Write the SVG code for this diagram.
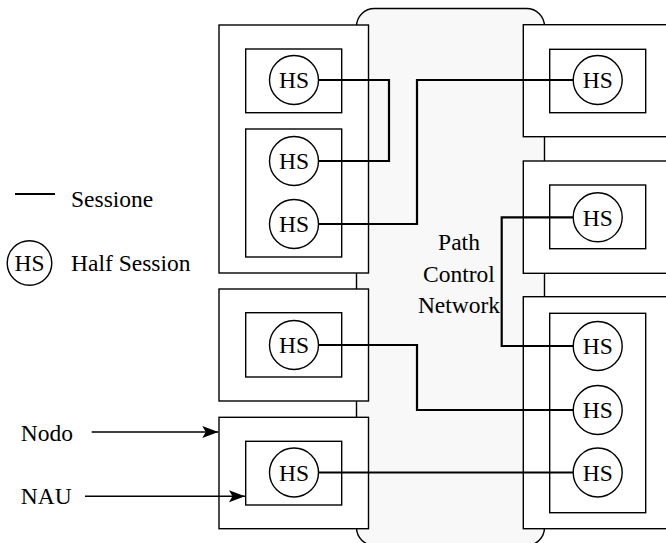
<svg xmlns="http://www.w3.org/2000/svg" width="666" height="543" viewBox="0 0 666 543">
<style>
  text { font-family: "Liberation Serif", "Tinos", "Times New Roman", Times, "Nimbus Roman", "Noto Serif", "DejaVu Serif", FreeSerif, serif; font-size: 23.5px; fill: #000; }
  .outer { fill: #fff; stroke: #000; stroke-width: 1.4; }
  .inner { fill: #fff; stroke: #000; stroke-width: 1.4; }
  .hsc { fill: #fff; stroke: #000; stroke-width: 1.4; }
  .hst { text-anchor: middle; }
  .sess { fill: none; stroke: #000; stroke-width: 2.2; }
  .arrow { fill: none; stroke: #000; stroke-width: 1.6; marker-end: url(#ah); }
</style>
<defs>
  <marker id="ah" markerUnits="userSpaceOnUse" markerWidth="18" markerHeight="14" refX="16" refY="6" orient="auto">
    <path d="M0,0 L16,6 L0,12 L3.5,6 Z" fill="#000"/>
  </marker>
</defs>
<rect width="666" height="543" fill="#fff"/>

<g id="pcn">
  <rect x="356.5" y="8.5" width="188" height="537" rx="18" ry="18" fill="#f8f8f8" stroke="#000" stroke-width="1.4"/>
  <text x="459" y="250" text-anchor="middle">Path</text>
  <text x="459" y="282" text-anchor="middle">Control</text>
  <text x="459" y="313" text-anchor="middle">Network</text>
</g>

<g id="nodeL1">
  <rect class="outer" x="219" y="25" width="149.5" height="248"/>
  <rect class="inner" x="245.7" y="49" width="96" height="63.7"/>
  <rect class="inner" x="245.7" y="129" width="96" height="128"/>
</g>
<g id="nodeL2">
  <rect class="outer" x="219" y="289" width="149.5" height="112"/>
  <rect class="inner" x="245.7" y="312.7" width="96" height="64.3"/>
</g>
<g id="nodeL3">
  <rect class="outer" x="219" y="417.3" width="149.5" height="111.4"/>
  <rect class="inner" x="245.7" y="441.3" width="96" height="63.7"/>
</g>
<g id="nodeR1">
  <rect class="outer" x="523.3" y="24.7" width="160" height="112"/>
  <rect class="inner" x="549.7" y="49.3" width="96" height="63.4"/>
</g>
<g id="nodeR2">
  <rect class="outer" x="523.3" y="161" width="160" height="112.3"/>
  <rect class="inner" x="549.7" y="185" width="96" height="63.7"/>
</g>
<g id="nodeR3">
  <rect class="outer" x="523.3" y="296.7" width="160" height="232"/>
  <rect class="inner" x="549.7" y="313.3" width="96" height="199.4"/>
</g>

<g id="connectors">
  <path class="sess" d="M318.5,80 H389 V161 H318.5"/>
  <path class="sess" d="M318.5,224 H417 V80 H573.2"/>
  <path class="sess" d="M573.2,217.3 H501.7 V346 H573.2"/>
  <path class="sess" d="M318.5,345 H417 V410 H573.2"/>
  <path class="sess" d="M318.5,472.5 H573.2"/>
  <line class="arrow" x1="91.7" y1="432" x2="218.3" y2="432"/>
  <line class="arrow" x1="85" y1="496.3" x2="245" y2="496.3"/>
</g>

<g id="hsL1"><circle class="hsc" cx="294" cy="80" r="24.5"/><text class="hst" x="294" y="88.2">HS</text></g>
<g id="hsL2"><circle class="hsc" cx="294" cy="161" r="24.5"/><text class="hst" x="294" y="169.2">HS</text></g>
<g id="hsL3"><circle class="hsc" cx="294" cy="224" r="24.5"/><text class="hst" x="294" y="232.2">HS</text></g>
<g id="hsL4"><circle class="hsc" cx="294" cy="345" r="24.5"/><text class="hst" x="294" y="353.2">HS</text></g>
<g id="hsL5"><circle class="hsc" cx="294" cy="472.5" r="24.5"/><text class="hst" x="294" y="480.7">HS</text></g>
<g id="hsR1"><circle class="hsc" cx="597.7" cy="80" r="24.5"/><text class="hst" x="597.7" y="88.2">HS</text></g>
<g id="hsR2"><circle class="hsc" cx="597.7" cy="217.3" r="24.5"/><text class="hst" x="597.7" y="225.5">HS</text></g>
<g id="hsR3"><circle class="hsc" cx="597.7" cy="346" r="24.5"/><text class="hst" x="597.7" y="354.2">HS</text></g>
<g id="hsR4"><circle class="hsc" cx="597.7" cy="410" r="24.5"/><text class="hst" x="597.7" y="418.2">HS</text></g>
<g id="hsR5"><circle class="hsc" cx="597.7" cy="472.5" r="24.5"/><text class="hst" x="597.7" y="480.7">HS</text></g>

<g id="legend">
  <line x1="15" y1="194" x2="55" y2="194" stroke="#000" stroke-width="2.2"/>
  <text x="71" y="207.3">Sessione</text>
  <circle class="hsc" cx="29.5" cy="263" r="22.3"/>
  <text class="hst" x="29.5" y="271">HS</text>
  <text x="71" y="271">Half Session</text>
</g>

<g id="labels">
  <text x="20.7" y="440.7">Nodo</text>
  <text x="20.7" y="504">NAU</text>
</g>
</svg>
